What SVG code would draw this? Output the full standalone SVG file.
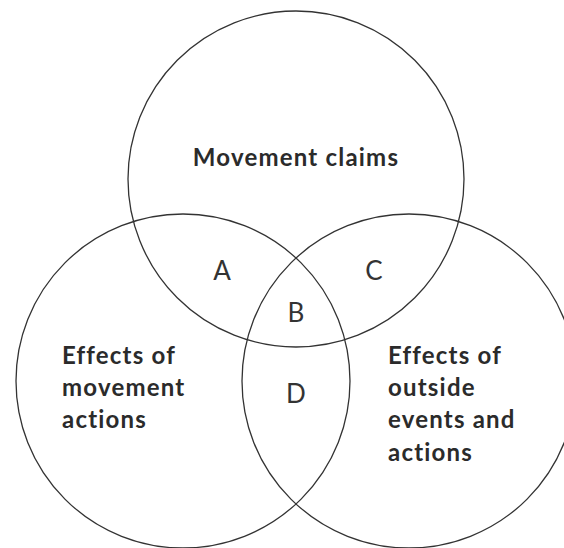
<svg xmlns="http://www.w3.org/2000/svg" width="564" height="548" viewBox="0 0 564 548">
<style>
.c{fill:none;stroke:#333;stroke-width:1.3}
.t{font-family:Lato,"Liberation Sans",sans-serif;font-size:24px;fill:#2b2b2b;font-weight:bold;letter-spacing:1.2px}
.l{font-family:Lato,"Liberation Sans",sans-serif;font-size:26px;fill:#333;text-anchor:middle}
</style>
<rect width="564" height="548" fill="#fff"/>
<g id="top"><circle class="c" cx="296" cy="179" r="168"/><text class="t" x="296" y="166" text-anchor="middle">Movement claims</text></g>
<g id="left"><circle class="c" cx="183" cy="381" r="167"/><text class="t"><tspan x="62" y="364">Effects of</tspan><tspan x="62" y="396">movement</tspan><tspan x="62" y="428">actions</tspan></text></g>
<g id="right"><circle class="c" cx="409" cy="381" r="167"/><text class="t"><tspan x="388" y="364">Effects of</tspan><tspan x="388" y="396">outside</tspan><tspan x="388" y="428">events and</tspan><tspan x="388" y="461">actions</tspan></text></g>
<g id="labels">
<text class="l" x="222" y="280">A</text>
<text class="l" x="296" y="322">B</text>
<text class="l" x="374" y="280">C</text>
<text class="l" x="296" y="403">D</text>
</g>
<g id="connectors"/>
</svg>
